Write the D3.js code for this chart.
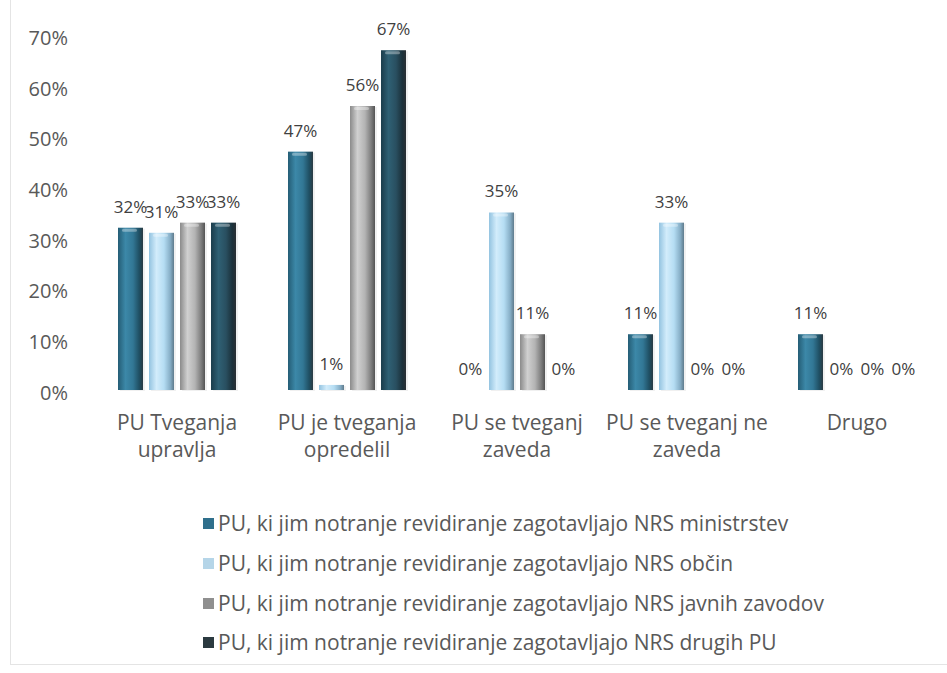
<!DOCTYPE html>
<html>
<head>
<meta charset="utf-8">
<script src="https://cdn.jsdelivr.net/npm/d3@7"></script>
<style>
  html, body { margin: 0; padding: 0; background: #fff; }
  svg { display: block; }
  text { font-family: "Open Sans", "Noto Sans", sans-serif; }
</style>
</head>
<body>
<svg id="chart" width="947" height="673"></svg>
<script>
// ---- data ----
const categories = [
  "PU Tveganja upravlja",
  "PU je tveganja opredelil",
  "PU se tveganj zaveda",
  "PU se tveganj ne zaveda",
  "Drugo"
];
const seriesNames = [
  "PU, ki jim notranje revidiranje zagotavljajo NRS ministrstev",
  "PU, ki jim notranje revidiranje zagotavljajo NRS občin",
  "PU, ki jim notranje revidiranje zagotavljajo NRS javnih zavodov",
  "PU, ki jim notranje revidiranje zagotavljajo NRS drugih PU"
];
const ministrstev = [0.32, 0.47, 0.00, 0.11, 0.11];
const obcin       = [0.31, 0.01, 0.35, 0.33, 0.00];
const zavodov     = [0.33, 0.56, 0.11, 0.00, 0.00];
const drugihPU    = [0.33, 0.67, 0.00, 0.00, 0.00];
const seriesValues = [ministrstev, obcin, zavodov, drugihPU];
const yTicks = [0, 0.1, 0.2, 0.3, 0.4, 0.5, 0.6, 0.7];

// ---- styles ----
const gradStops = [
  ["#245d75", "#3c88a8", "#327795", "#1f4f63", "#2a3a42"],
  ["#93c3e0", "#d2ecfb", "#b5ddf3", "#86aec6", "#5f7b8c"],
  ["#8a8a8a", "#d0d0d0", "#b3b3b3", "#7c7c7c", "#545454"],
  ["#1b3c4b", "#2f6074", "#294f60", "#1b313b", "#2a2f33"]
];
const legendColors = ["#2f6f8c", "#b5d5e8", "#8f8f8f", "#2b3a40"];
const textColor = "#595959";
const labelColor = "#404040";

const svg = d3.select("#chart");
const defs = svg.append("defs");
gradStops.forEach((stops, i) => {
  const g = defs.append("linearGradient").attr("id", "g" + i)
    .attr("x1", "0").attr("x2", "1").attr("y1", "0").attr("y2", "0");
  const offs = [0, 0.3, 0.6, 0.85, 1];
  stops.forEach((c, k) => g.append("stop").attr("offset", offs[k]).attr("stop-color", c));
});

// frame
svg.append("rect").attr("x", 10.5).attr("y", -5).attr("width", 950).attr("height", 669.5)
  .attr("fill", "none").attr("stroke", "#e4e4e4").attr("stroke-width", 1);

// ---- scales ----
const y = d3.scaleLinear().domain([0, 0.7]).range([390, 35]);
const x0 = d3.scaleBand().domain(categories).range([92, 942]).paddingInner(0).paddingOuter(0);
const x1 = d3.scaleBand().domain(d3.range(seriesNames.length)).range([26, 144]).paddingInner(0.194).paddingOuter(0);

// y axis labels
const yAxis = d3.axisLeft(y).tickValues(yTicks).tickFormat(d3.format(".0%")).tickSize(0).tickPadding(0);
const yg = svg.append("g").attr("transform", "translate(68,3)").call(yAxis);
yg.select(".domain").remove();
yg.selectAll("text").attr("fill", textColor).style("font-size", "20px")
  .style("font-family", "'Open Sans', sans-serif");

// bars
const groups = svg.append("g").selectAll("g").data(categories).join("g")
  .attr("transform", d => `translate(${x0(d)},0)`);

groups.each(function(cat, ci) {
  const g = d3.select(this);
  seriesValues.forEach((vals, si) => {
    const v = vals[ci];
    const bx = x1(si), bw = x1.bandwidth();
    if (v > 0) {
      const top = y(v), h = y(0) - y(v);
      g.append("rect").attr("x", bx + 2).attr("y", top + 1).attr("width", bw).attr("height", h)
        .attr("fill", "#000").attr("opacity", 0.06);
      g.append("rect").attr("x", bx).attr("y", top).attr("width", bw).attr("height", h)
        .attr("fill", `url(#g${si})`);
      if (h > 8) {
        g.append("rect").attr("x", bx + 4).attr("y", top + 1).attr("width", bw - 10).attr("height", 3)
          .attr("rx", 1.5).attr("fill", "#fff").attr("opacity", 0.35);
      }
    }
    g.append("text").attr("x", bx + bw / 2).attr("y", y(v) - 21)
      .attr("dy", "0.35em").attr("text-anchor", "middle")
      .attr("fill", labelColor).style("font-size", "17px")
      .text(d3.format(".0%")(v));
  });
});

// category labels (wrapped)
function wrapLines(str, maxW, size) {
  const tmp = svg.append("text").style("font-size", size + "px");
  const words = str.split(" ");
  const lines = [];
  let cur = [];
  words.forEach(w => {
    const test = cur.concat([w]).join(" ");
    tmp.text(test);
    if (tmp.node().getComputedTextLength() > maxW && cur.length) {
      lines.push(cur.join(" "));
      cur = [w];
    } else cur.push(w);
  });
  if (cur.length) lines.push(cur.join(" "));
  tmp.remove();
  return lines;
}
categories.forEach(cat => {
  const lines = wrapLines(cat, 168, 21);
  const t = svg.append("text").attr("text-anchor", "middle").attr("fill", textColor)
    .style("font-size", "21px");
  lines.forEach((ln, i) => {
    t.append("tspan").attr("x", x0(cat) + x0.bandwidth() / 2).attr("y", 423 + i * 27)
      .attr("dy", "0.35em").text(ln);
  });
});

// legend
const legY = [524, 564, 604, 643];
seriesNames.forEach((name, i) => {
  svg.append("rect").attr("x", 203).attr("y", legY[i] - 6).attr("width", 11).attr("height", 11)
    .attr("fill", legendColors[i]);
  svg.append("text").attr("x", 218).attr("y", legY[i]).attr("dy", "0.35em")
    .attr("fill", textColor).style("font-size", "21px").text(name);
});
</script>
</body>
</html>
